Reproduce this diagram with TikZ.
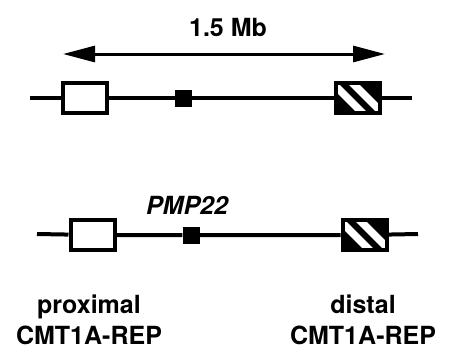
\documentclass[tikz,border=0pt]{standalone}
\usepackage{fontspec}
\setmainfont{TeX Gyre Heros}
\usetikzlibrary{arrows.meta}
\usetikzlibrary{positioning}
\tikzset{
    chrom/.style = {line width=4pt},
    repbox/.style = {rectangle, draw=black, line width=4pt, fill=white, minimum width=44pt, minimum height=30pt, inner sep=0pt},
    hatchbox/.style = {repbox, fill=black, path picture={
        \foreach \o in {-10,10}
            \draw[white, line width=7.5pt, shift={(path picture bounding box.center)}] (\o-20,-20) -- ++(40,40);}},
    gene/.style = {rectangle, fill=black, minimum size=17pt, inner sep=0pt},
    lbl/.style = {font=\fontsize{25}{31}\selectfont\bfseries, align=center, inner sep=0pt},
}
\begin{document}
\begin{tikzpicture}[x=1pt, y=-1pt]
\useasboundingbox (0,0) rectangle (453,349);
\node[lbl] at (228,27) (mb) {1.5 Mb};
\coordinate (al) at (63,54);
\coordinate (ar) at (385,54);
\draw[line width=3pt, {Triangle[length=32pt,width=16pt]}-{Triangle[length=32pt,width=16pt]}] (al) -- (ar);
% normal chromosome
\coordinate (tl) at (30,98);
\coordinate (tr) at (412,98);
\node[repbox] at (85,98) (tp) {};
\node[gene] at (183.5,98) (tg) {};
\node[hatchbox] at (357.5,98) (td) {};
\draw[chrom] (tl) -- (tp) -- (tg) -- (td) -- (tr);
% second chromosome
\coordinate (bl) at (37,234);
\coordinate (br) at (418,234);
\node[repbox] at (92.5,235) (bp) {};
\node[gene] at (191,235) (bg) {};
\node[hatchbox] at (364.5,235) (bd) {};
\draw[chrom] (bl) -- (bp) -- (bg) -- (bd) -- (br);
%
\node[lbl, font=\fontsize{25}{31}\selectfont\bfseries\itshape] at (187,205) (pmp) {PMP22};
\node[lbl] at (89,320) (prox) {proximal\\CMT1A-REP};
\node[lbl] at (363,320) (dist) {distal\\CMT1A-REP};
\end{tikzpicture}
\end{document}
